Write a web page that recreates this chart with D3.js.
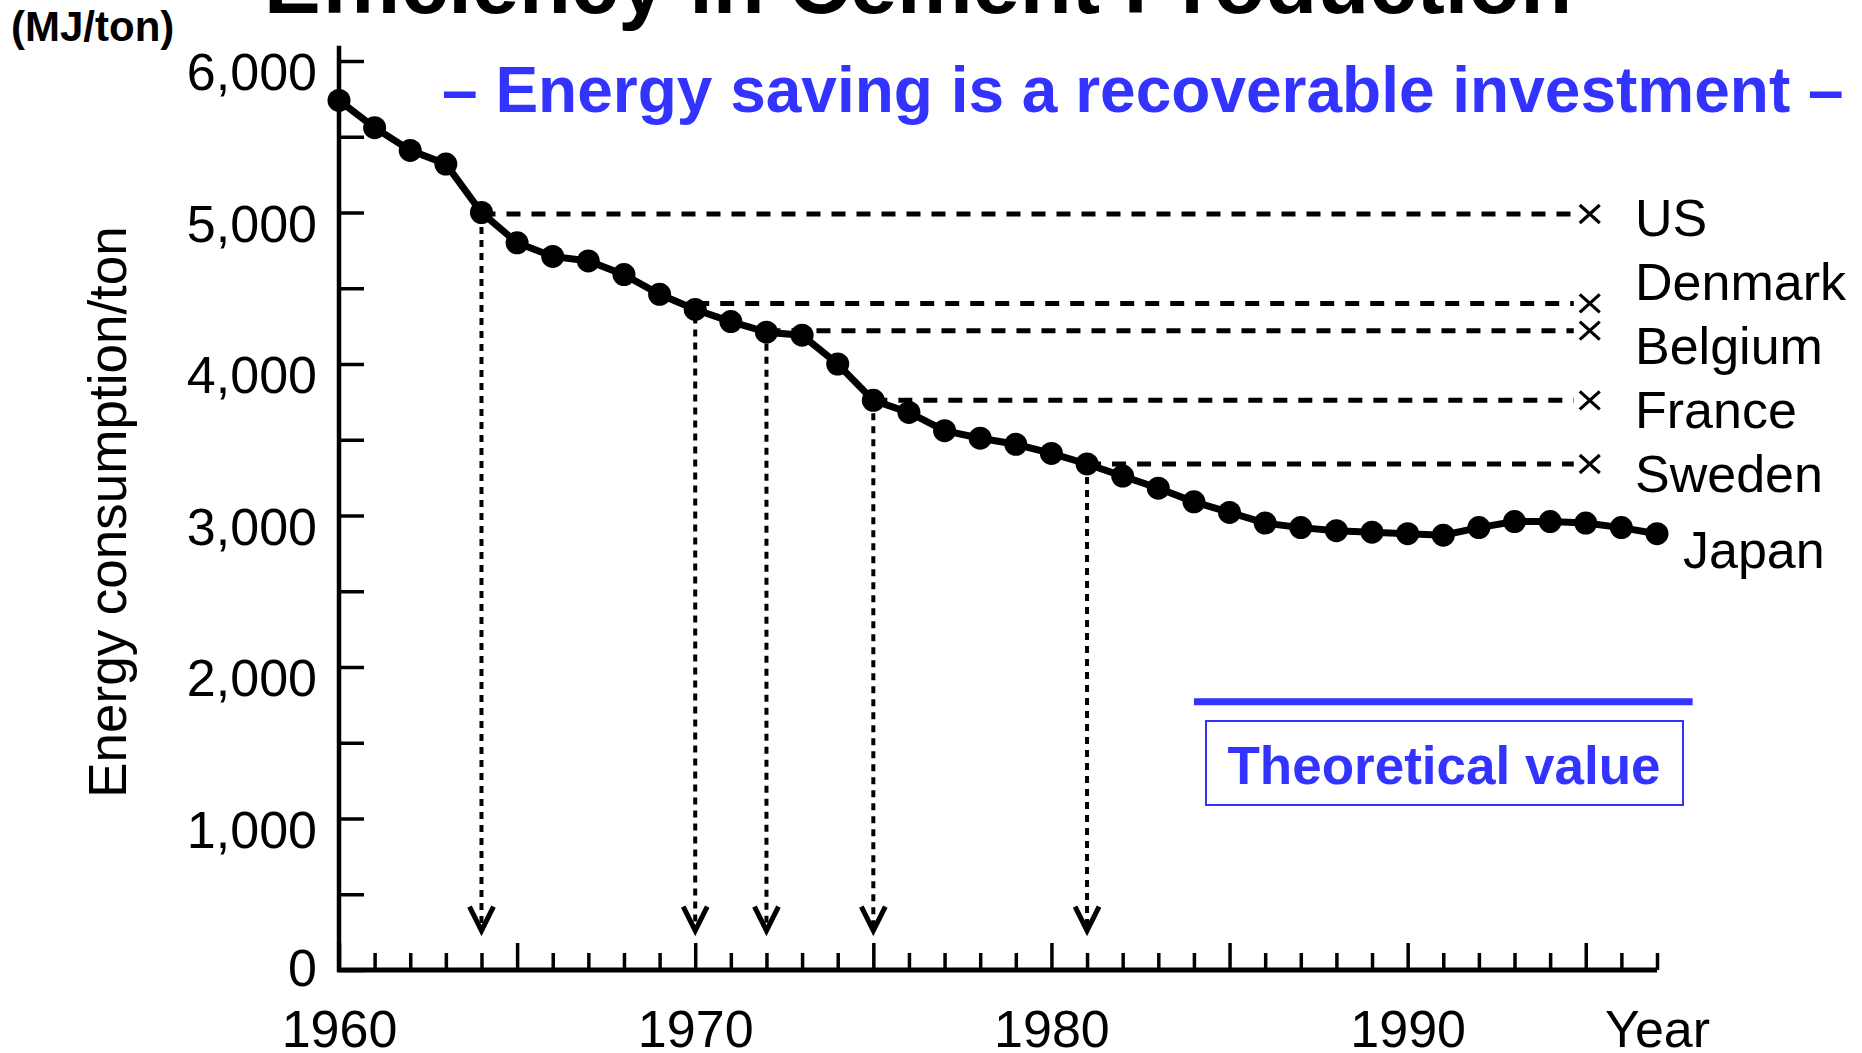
<!DOCTYPE html>
<html>
<head>
<meta charset="utf-8">
<script src="https://cdn.jsdelivr.net/npm/d3@7"></script>
<style>
	body { margin: 0; background: #fff; }
	svg { display: block; background: #fff; }
	text { font-family: "Liberation Sans", Arial, sans-serif; }
</style>
</head>
<body>
<svg id="chart" width="1862" height="1053"></svg>
<script>
// Japan, energy consumption per ton of cement (MJ/ton)
const years = [1960, 1961, 1962, 1963, 1964, 1965, 1966, 1967, 1968, 1969,
	1970, 1971, 1972, 1973, 1974, 1975, 1976, 1977, 1978, 1979,
	1980, 1981, 1982, 1983, 1984, 1985, 1986, 1987, 1988, 1989,
	1990, 1991, 1992, 1993, 1994, 1995, 1996, 1997]
const japan = [5740, 5560, 5410, 5320, 5000, 4800, 4710, 4680, 4590, 4460,
	4360, 4280, 4210, 4190, 4000, 3760, 3680, 3560, 3510, 3470,
	3410, 3340, 3260, 3180, 3090, 3020, 2950, 2920, 2900, 2890,
	2880, 2870, 2920, 2960, 2960, 2950, 2920, 2880]

// other countries in 1995, and the year Japan was at that level
const countries = ['US', 'Denmark', 'Belgium', 'France', 'Sweden']
const countryValues = [4990, 4400, 4220, 3760, 3340]
const countryYears = [1964, 1970, 1972, 1975, 1981]
const countryYear = 1995

const theoreticalValue = 1770
const theoreticalYears = [1984, 1998]

const yTicks = [0, 500, 1000, 1500, 2000, 2500, 3000, 3500, 4000, 4500, 5000, 5500, 6000]
const xLabelYears = [1960, 1970, 1980, 1990, 1997]
const xLabelText = ['1960', '1970', '1980', '1990', 'Year']

const blue = '#3333ff'

function draw(id) {
	const svg = d3.select(`#${id}`)
	const x = d3.scaleLinear().domain([1960, 1997]).range([339, 1657])
	const y = d3.scaleLinear().domain([0, 6000]).range([970, 61])

	// title, cut off at the top of the slide
	svg.append('text')
		.attr('x', 264)
		.attr('y', 13)
		.attr('font-size', 85)
		.attr('font-weight', 'bold')
		.text('Efficiency in Cement Production')

	svg.append('text')
		.attr('x', 11)
		.attr('y', 41)
		.attr('font-size', 42)
		.attr('font-weight', 'bold')
		.text('(MJ/ton)')

	svg.append('text')
		.attr('x', 442)
		.attr('y', 112)
		.attr('font-size', 64)
		.attr('font-weight', 'bold')
		.attr('fill', blue)
		.text('– Energy saving is a recoverable investment –')

	svg.append('text')
		.attr('transform', `translate(126, 512) rotate(-90)`)
		.attr('text-anchor', 'middle')
		.attr('font-size', 53)
		.text('Energy consumption/ton')

	// y axis, ticks point inward
	const yAxis = d3.axisLeft(y)
		.tickValues(yTicks)
		.tickSizeInner(-25)
		.tickSizeOuter(0)
		.tickPadding(22)
		.tickFormat(d => d % 1000 === 0 ? d3.format(',')(d) : '')
	const gy = svg.append('g')
		.attr('transform', `translate(${x(1960)}, 0)`)
		.call(yAxis)
	gy.select('.domain').remove()
	gy.selectAll('line').attr('stroke', '#000').attr('stroke-width', 3.5)
	gy.selectAll('text')
		.attr('font-size', 52)
		.attr('font-family', '"Liberation Sans", Arial, sans-serif')
		.attr('fill', '#000')
		.attr('dy', d => d === 0 ? '0.3em' : '0.55em')

	// x axis, a tick every year, taller every five
	const xAxis = d3.axisBottom(x)
		.tickValues(years)
		.tickSizeInner(-17)
		.tickSizeOuter(0)
		.tickPadding(40)
		.tickFormat(d => {
			const i = xLabelYears.indexOf(d)
			return i < 0 ? '' : xLabelText[i]
		})
	const gx = svg.append('g')
		.attr('transform', `translate(0, ${y(0)})`)
		.call(xAxis)
	gx.select('.domain').remove()
	gx.selectAll('line').attr('stroke', '#000').attr('stroke-width', 3.5)
	gx.selectAll('.tick')
		.filter(d => d % 5 === 0)
		.select('line')
		.attr('y2', -27)
	gx.selectAll('text')
		.attr('font-size', 52)
		.attr('font-family', '"Liberation Sans", Arial, sans-serif')
		.attr('fill', '#000')

	svg.append('line')
		.attr('x1', x(1960)).attr('x2', x(1960))
		.attr('y1', y(0) + 2).attr('y2', y(6100))
		.attr('stroke', '#000')
		.attr('stroke-width', 4.5)
	svg.append('line')
		.attr('x1', x(1960) - 2).attr('x2', x(1997))
		.attr('y1', y(0)).attr('y2', y(0))
		.attr('stroke', '#000')
		.attr('stroke-width', 5)

	// theoretical value
	svg.append('line')
		.attr('x1', x(theoreticalYears[0])).attr('x2', x(theoreticalYears[1]))
		.attr('y1', y(theoreticalValue)).attr('y2', y(theoreticalValue))
		.attr('stroke', blue)
		.attr('stroke-width', 7)
	svg.append('rect')
		.attr('x', 1206)
		.attr('y', 721)
		.attr('width', 477)
		.attr('height', 84)
		.attr('fill', 'none')
		.attr('stroke', blue)
		.attr('stroke-width', 2)
	svg.append('text')
		.attr('x', 1444)
		.attr('y', 784)
		.attr('text-anchor', 'middle')
		.attr('font-size', 53)
		.attr('font-weight', 'bold')
		.attr('fill', blue)
		.text('Theoretical value')

	// dashed levels, dotted drops and arrows
	const arrowTip = y(260)
	countries.forEach((c, i) => {
		const v = countryValues[i]
		const cx = x(countryYears[i])
		svg.append('line')
			.attr('x1', cx).attr('x2', x(countryYear) - 12)
			.attr('y1', y(v)).attr('y2', y(v))
			.attr('stroke', '#000')
			.attr('stroke-width', 5)
			.attr('stroke-dasharray', '14,11')
		svg.append('line')
			.attr('x1', cx).attr('x2', cx)
			.attr('y1', y(v)).attr('y2', arrowTip - 4)
			.attr('stroke', '#000')
			.attr('stroke-width', 4)
			.attr('stroke-dasharray', '7,6')
		svg.append('path')
			.attr('d', `M${cx - 12},${arrowTip - 24}L${cx},${arrowTip}L${cx + 12},${arrowTip - 24}`)
			.attr('fill', 'none')
			.attr('stroke', '#000')
			.attr('stroke-width', 5)
		svg.append('path')
			.attr('transform', `translate(${x(countryYear) + 4}, ${y(v)})`)
			.attr('d', 'M-10,-9L10,9M10,-9L-10,9')
			.attr('stroke', '#000')
			.attr('stroke-width', 3.2)
		svg.append('text')
			.attr('x', 1635)
			.attr('y', 236 + i * 64)
			.attr('font-size', 52)
			.text(c)
	})

	// Japan
	const line = d3.line()
		.x((d, i) => x(years[i]))
		.y(d => y(d))
	svg.append('path')
		.attr('d', line(japan))
		.attr('fill', 'none')
		.attr('stroke', '#000')
		.attr('stroke-width', 7)
	svg.append('g')
		.selectAll('circle')
		.data(japan)
		.join('circle')
		.attr('cx', (d, i) => x(years[i]))
		.attr('cy', d => y(d))
		.attr('r', 11.5)
		.attr('fill', '#000')
	svg.append('text')
		.attr('x', 1683)
		.attr('y', 568)
		.attr('font-size', 52)
		.text('Japan')
}

draw('chart')
</script>
</body>
</html>
